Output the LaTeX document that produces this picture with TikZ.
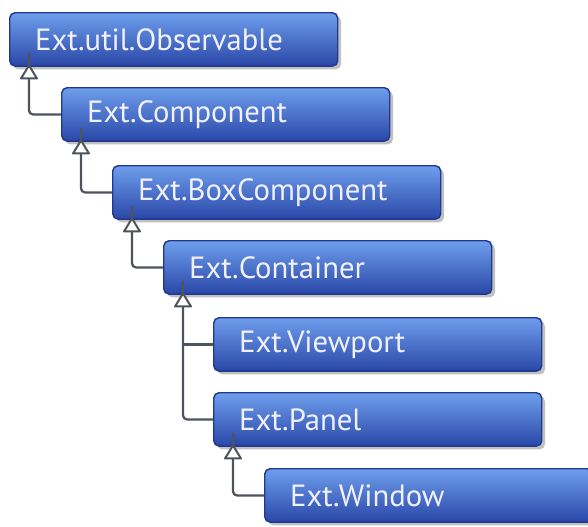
\documentclass[tikz,border=0pt]{standalone}
\usepackage{fontspec}
\setmainfont{PT Sans}
\usepackage{tikz}
\usetikzlibrary{shadows}

\definecolor{boxtop}{HTML}{6E9EEC}
\definecolor{boxmid}{HTML}{4372D2}
\definecolor{boxbot}{HTML}{2A47A8}
\definecolor{boxedge}{HTML}{22388C}
\definecolor{linkgray}{HTML}{4E535C}

\tikzset{
  cls/.style={draw=boxedge, line width=1.1pt, rounded corners=4pt,
    top color=boxtop, middle color=boxmid, bottom color=boxbot,
    anchor=north west, inner xsep=19pt, text width=208pt, minimum height=40pt,
    align=left, text=white!94!blue, font=\fontsize{23}{26}\selectfont,
    drop shadow={shadow xshift=2.5pt, shadow yshift=-2.5pt, opacity=0.35, fill=black!70}},
  link/.style={draw=linkgray, line width=1.7pt, rounded corners=3pt},
  isahead/.style={draw=linkgray, fill=white, line width=1.5pt, line join=round},
}

\begin{document}
\begin{tikzpicture}[x=0.75pt,y=0.75pt,yscale=-1,xscale=1]
    \useasboundingbox (0,0) rectangle (588,526);

    % Class boxes
    \node[cls] (obs) at (9,12) {Ext.util.Observable};
    \node[cls] (comp) at (61,87) {Ext.Component};
    \node[cls] (boxc) at (112,165) {Ext.BoxComponent};
    \node[cls] (cont) at (163,240) {Ext.Container};
    \node[cls] (view) at (213,317) {Ext.Viewport};
    \node[cls] (panel) at (213,392) {Ext.Panel};
    \node[cls] (win) at (264,468) {Ext.Window};

    % Inheritance links
    \foreach \p in {obs,comp,boxc,cont,panel}
      \coordinate (\p foot) at ([xshift=15pt,yshift=-10.5pt]\p.south west);
    \draw[link] (comp.west) -| (obsfoot);
    \draw[link] (boxc.west) -| (compfoot);
    \draw[link] (cont.west) -| (boxcfoot);
    \draw[link] (view.west) -- (view.west -| contfoot);
    \draw[link] (panel.west) -| (contfoot);
    \draw[link] (win.west) -| (panelfoot);

    % Triangle heads
    \foreach \p in {obs,comp,boxc,cont,panel}
      \draw[isahead] ([xshift=15pt,yshift=-1pt]\p.south west) -- ++(-8,13) -- ++(16,0) -- cycle;
\end{tikzpicture}
\end{document}
